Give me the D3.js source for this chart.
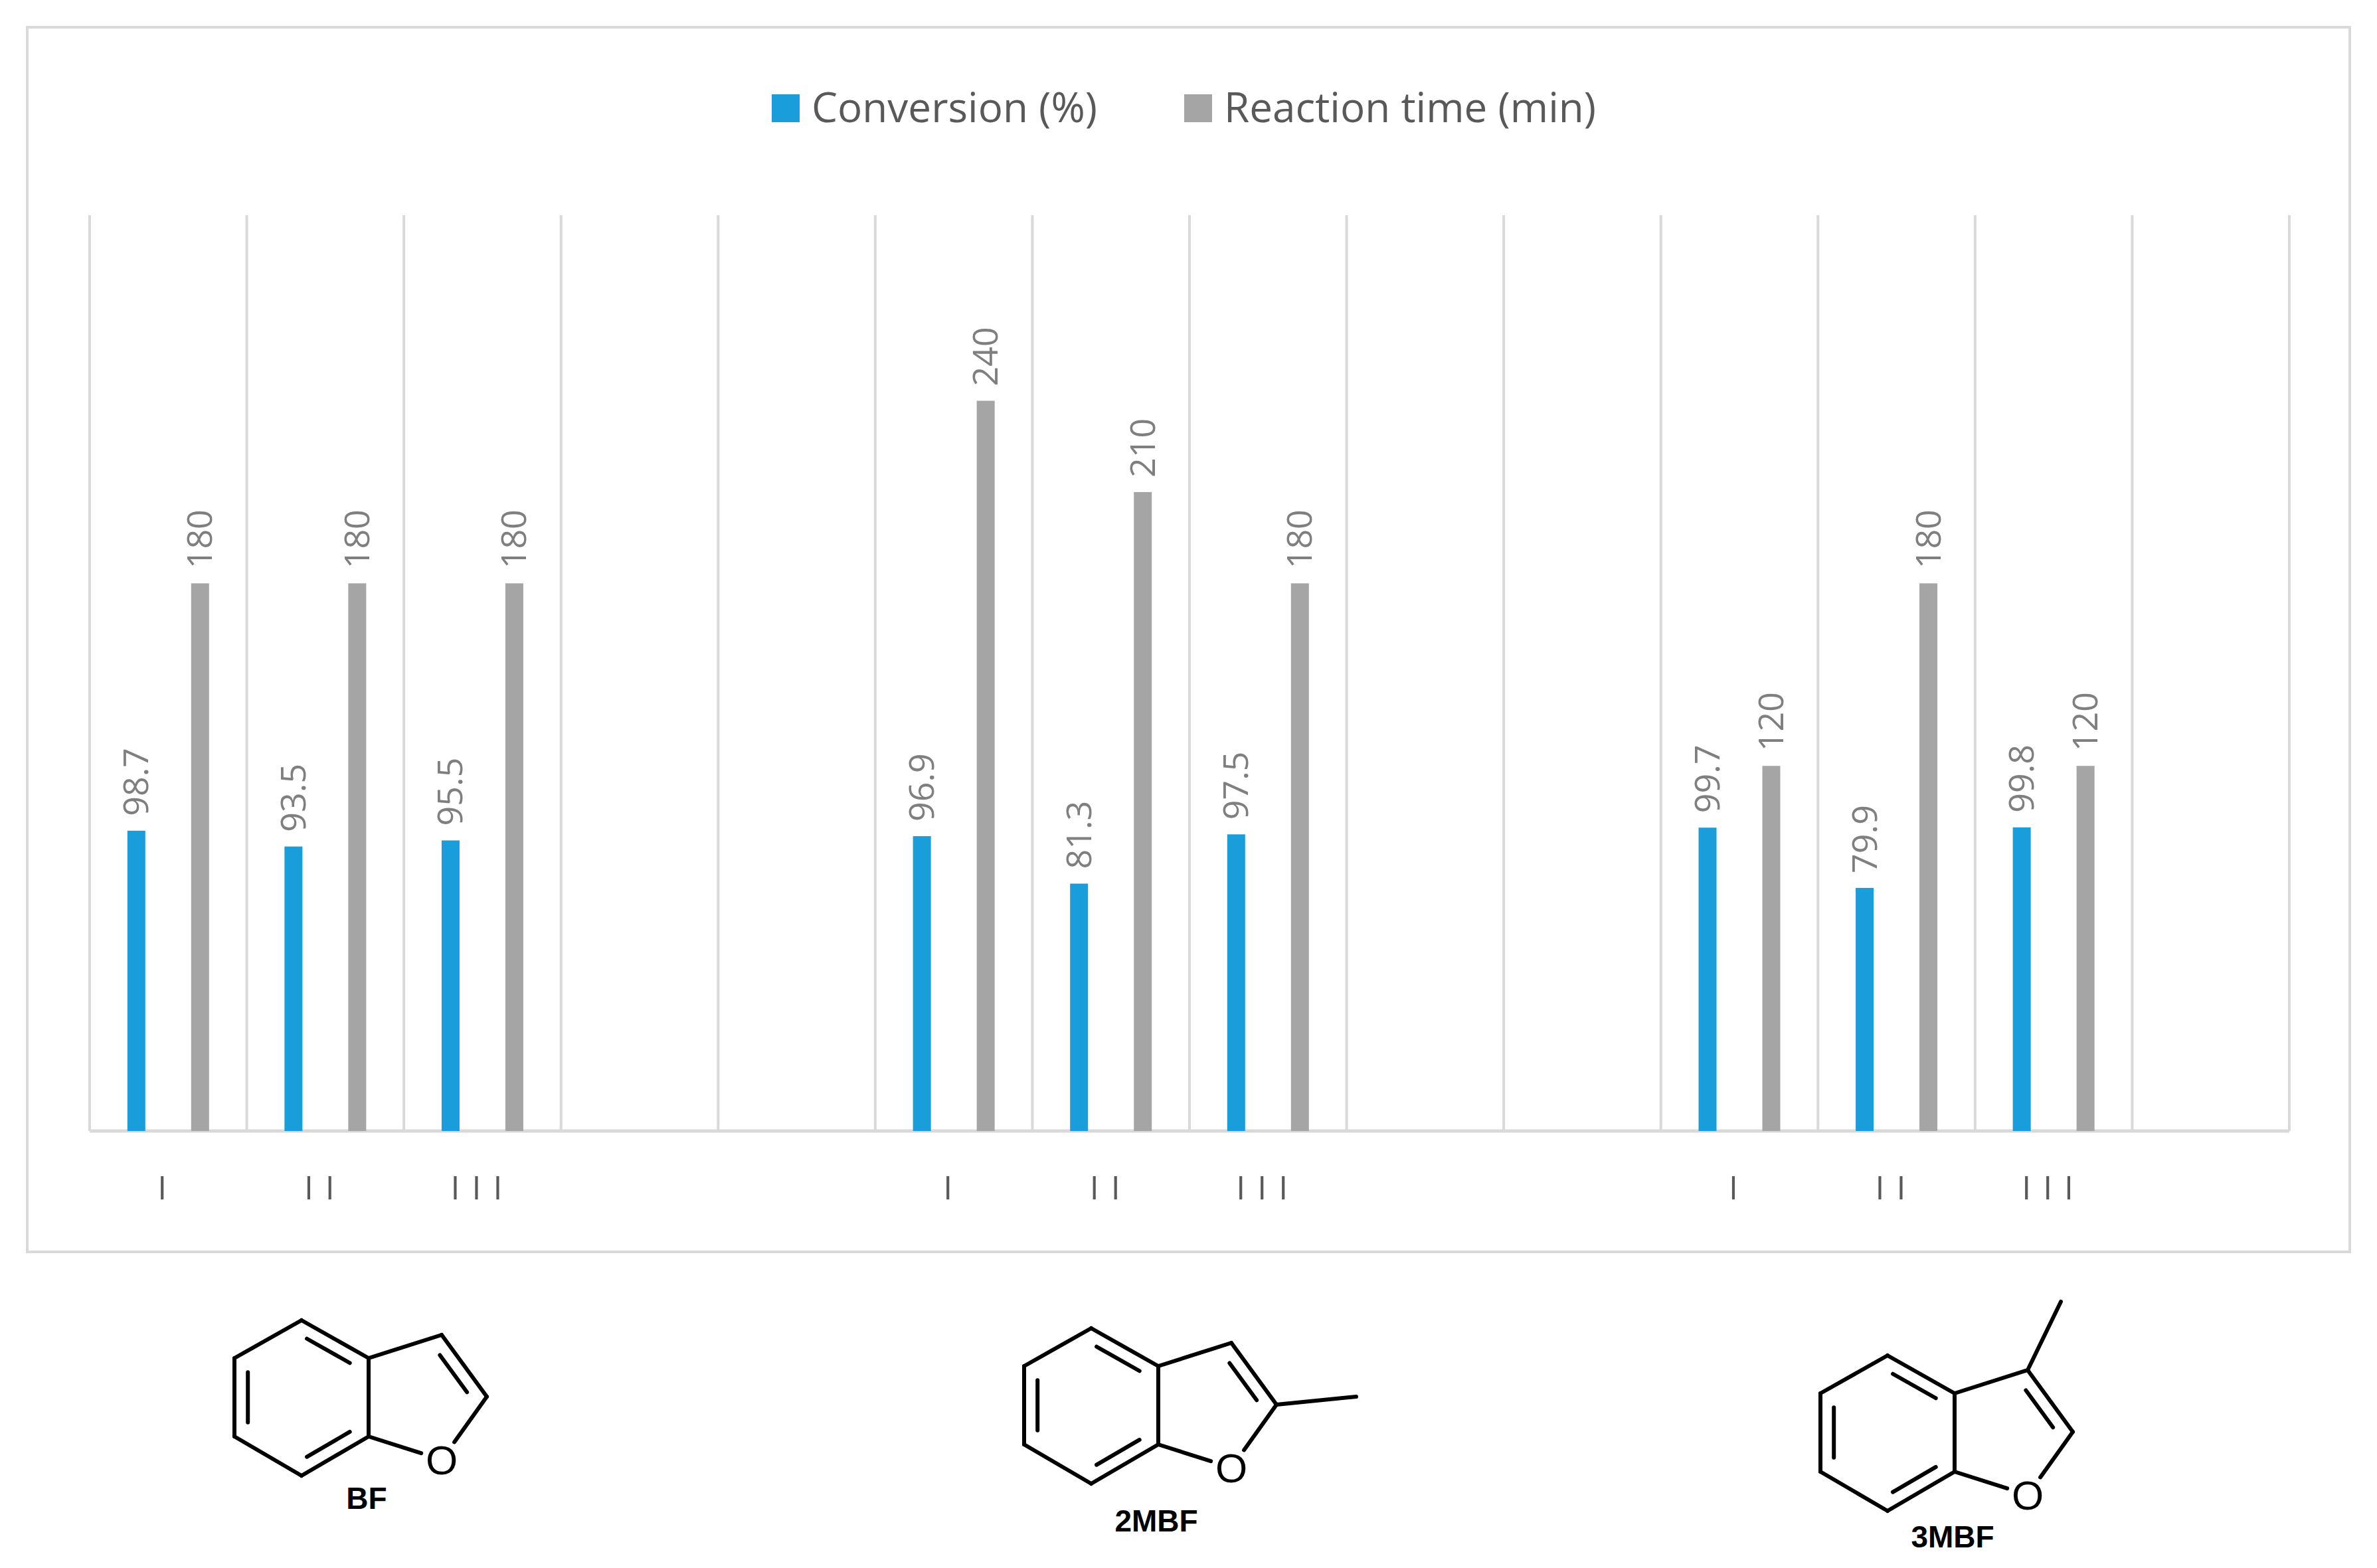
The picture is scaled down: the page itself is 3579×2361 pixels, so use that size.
<!DOCTYPE html>
<html><head><meta charset="utf-8">
<script src="https://cdn.jsdelivr.net/npm/d3@7"></script>
<style>body{margin:0;background:#fff}</style>
</head><body>
<svg id="chart" width="3579" height="2361"></svg>
<script>
// chart data
const categories = ["I", "II", "III", "", "", "I", "II", "III", "", "", "I", "II", "III", ""];
const conversion = [98.7, 93.5, 95.5, null, null, 96.9, 81.3, 97.5, null, null, 99.7, 79.9, 99.8, null];
const reactionTime = [180, 180, 180, null, null, 240, 210, 180, null, null, 120, 180, 120, null];
const seriesNames = ["Conversion (%)", "Reaction time (min)"];
const compounds = ["BF", "2MBF", "3MBF"];

const svg = d3.select("#chart");
const margin = { top: 324, left: 135, right: 132, bottom: 658 };
const W = 3579, H = 2361;
const innerH = H - margin.top - margin.bottom;

svg.append("rect").attr("x", 41).attr("y", 41).attr("width", 3497).attr("height", 1844)
    .attr("fill", "#fff").attr("stroke", "#d9d9d9").attr("stroke-width", 4);

const x = d3.scaleBand().domain(d3.range(categories.length)).range([margin.left, W - margin.right]);
const y = d3.scaleLinear().domain([0, 301]).range([margin.top + innerH, margin.top]);
const base = y(0);

const g = svg.append("g");

// vertical gridlines at category boundaries
const bounds = d3.range(categories.length + 1).map(i => i < categories.length ? x(i) : x(i - 1) + x.bandwidth());
g.selectAll(".grid").data(bounds).join("line")
    .attr("x1", d => d).attr("x2", d => d).attr("y1", y(301)).attr("y2", base)
    .attr("stroke", "#d9d9d9").attr("stroke-width", 4);
g.append("line").attr("x1", bounds[0]).attr("x2", bounds[bounds.length - 1])
    .attr("y1", base).attr("y2", base).attr("stroke", "#d9d9d9").attr("stroke-width", 5);

const bw = 27, off = 48;
const series = [
    { vals: conversion, color: "#1a9ddb", dx: -off },
    { vals: reactionTime, color: "#a5a5a5", dx: off }
];
series.forEach(s => {
    const pts = s.vals.map((v, i) => ({ v, i })).filter(d => d.v != null);
    g.selectAll(null).data(pts).join("rect")
        .attr("x", d => x(d.i) + x.bandwidth() / 2 + s.dx - bw / 2)
        .attr("y", d => y(d.v)).attr("width", bw).attr("height", d => base - y(d.v))
        .attr("fill", s.color);
    g.selectAll(null).data(pts).join("text")
        .attr("transform", d => `translate(${x(d.i) + x.bandwidth() / 2 + s.dx + 18},${y(d.v) - 22}) rotate(-90)`)
        .attr("font-family", "Open Sans, sans-serif").attr("font-size", 52).attr("fill", "#7f7f7f")
        .text(d => d.v.toFixed(s.dx < 0 ? 1 : 0));
});

// category labels
g.selectAll(".tick").data(categories.map((c, i) => ({ c, i })).filter(d => d.c)).join("text")
    .attr("x", d => x(d.i) + x.bandwidth() / 2).attr("y", 1806)
    .attr("text-anchor", "middle").attr("font-family", "Open Sans, sans-serif")
    .attr("font-size", 50).attr("letter-spacing", 18).attr("fill", "#595959")
    .text(d => d.c);

// legend
const leg = svg.append("g").attr("font-family", "Open Sans, sans-serif").attr("font-size", 62).attr("fill", "#595959");
const legItems = [{ x: 1162, c: "#1a9ddb" }, { x: 1783, c: "#a5a5a5" }];
legItems.forEach((l, i) => {
    leg.append("rect").attr("x", l.x).attr("y", 142).attr("width", 42).attr("height", 42).attr("fill", l.c);
    leg.append("text").attr("x", l.x + 60).attr("y", 184).text(seriesNames[i]);
});

// benzofuran structures
const hexPts = [[-101, -59], [0, -116], [101, -59], [101, 59], [0, 118], [-101, 59]];
const c3 = [211, -94], c2 = [279, -1], ox = [211, 94];
function drawBF(cx, cy, methyl, label, ly) {
    const s = svg.append("g").attr("transform", `translate(${cx},${cy})`)
        .attr("stroke", "#000").attr("stroke-width", 6).attr("fill", "none").attr("stroke-linecap", "round");
    const line = (a, b) => s.append("line").attr("x1", a[0]).attr("y1", a[1]).attr("x2", b[0]).attr("y2", b[1]);
    const inner = (a, b, ctr, t) => {
        const sh = p => [p[0] + (ctr[0] - p[0]) * t, p[1] + (ctr[1] - p[1]) * t];
        const a2 = sh(a), b2 = sh(b);
        const k = 0.1;
        line([a2[0] + (b2[0] - a2[0]) * k, a2[1] + (b2[1] - a2[1]) * k], [b2[0] - (b2[0] - a2[0]) * k, b2[1] - (b2[1] - a2[1]) * k]);
    };
    for (let i = 0; i < 6; i++) line(hexPts[i], hexPts[(i + 1) % 6]);
    inner(hexPts[1], hexPts[2], [0, 0], 0.2);
    inner(hexPts[3], hexPts[4], [0, 0], 0.2);
    inner(hexPts[5], hexPts[0], [0, 0], 0.2);
    line(hexPts[2], c3); line(c3, c2);
    inner(c3, c2, [180, 0], 0.25);
    line(c2, [c2[0] - (c2[0] - ox[0]) * 0.72, c2[1] - (c2[1] - ox[1]) * 0.72]);
    line(hexPts[3], [hexPts[3][0] + (ox[0] - hexPts[3][0]) * 0.72, hexPts[3][1] + (ox[1] - hexPts[3][1]) * 0.72]);
    if (methyl) line(methyl[0], methyl[1]);
    s.append("text").attr("x", ox[0]).attr("y", ox[1] + 22).attr("text-anchor", "middle")
        .attr("stroke", "none").attr("fill", "#000").attr("font-family", "Liberation Sans, Arial, sans-serif")
        .attr("font-size", 62).text("O");
    svg.append("text").attr("x", cx + 98).attr("y", ly).attr("text-anchor", "middle")
        .attr("font-family", "Liberation Sans, Arial, sans-serif").attr("font-weight", "bold")
        .attr("font-size", 46).text(label);
}
drawBF(454, 2104, null, compounds[0], 2272);
drawBF(1643, 2116, [c2, [c2[0] + 120, c2[1] - 12]], compounds[1], 2306);
drawBF(2842, 2157, [c3, [c3[0] + 50, c3[1] - 103]], compounds[2], 2330);
</script>
</body></html>
